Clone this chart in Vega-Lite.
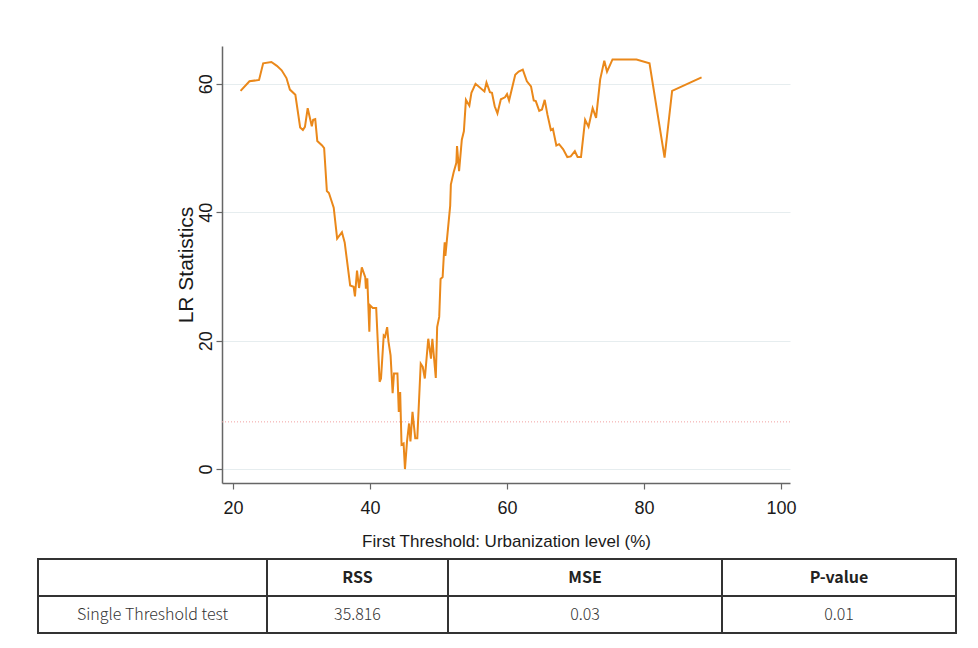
{
  "$schema": "https://vega.github.io/schema/vega-lite/v6.json",
  "padding": {"left": 37, "top": 46, "right": 0, "bottom": 0},
  "background": "white",
  "datasets": {
    "lr": [
      {"x": 21.1, "y": 58.9}, {"x": 22.4, "y": 60.4}, {"x": 23.8, "y": 60.6}, {"x": 24.4, "y": 63.2},
      {"x": 25.6, "y": 63.4}, {"x": 26.4, "y": 62.8}, {"x": 27.1, "y": 62.1}, {"x": 27.8, "y": 60.9},
      {"x": 28.3, "y": 59.1}, {"x": 29.1, "y": 58.3}, {"x": 29.8, "y": 53.2}, {"x": 30.2, "y": 52.8},
      {"x": 30.5, "y": 53.3}, {"x": 30.9, "y": 56.2}, {"x": 31.5, "y": 53.4}, {"x": 31.7, "y": 54.4},
      {"x": 32.0, "y": 54.5}, {"x": 32.3, "y": 51.1}, {"x": 33.0, "y": 50.4}, {"x": 33.3, "y": 50.0},
      {"x": 33.7, "y": 43.3}, {"x": 34.0, "y": 43.0}, {"x": 34.7, "y": 40.7}, {"x": 35.2, "y": 35.9},
      {"x": 35.9, "y": 36.9}, {"x": 36.3, "y": 35.3}, {"x": 37.1, "y": 28.6}, {"x": 37.6, "y": 28.4},
      {"x": 37.8, "y": 26.9}, {"x": 38.1, "y": 30.9}, {"x": 38.4, "y": 28.2}, {"x": 38.8, "y": 31.4},
      {"x": 39.3, "y": 29.9}, {"x": 39.4, "y": 28.1}, {"x": 39.6, "y": 29.7}, {"x": 39.9, "y": 21.4},
      {"x": 40.0, "y": 25.5}, {"x": 40.4, "y": 25.1}, {"x": 40.9, "y": 25.1}, {"x": 41.4, "y": 13.6},
      {"x": 41.6, "y": 14.1}, {"x": 42.0, "y": 20.8}, {"x": 42.2, "y": 20.6}, {"x": 42.5, "y": 22.1},
      {"x": 42.7, "y": 19.8}, {"x": 43.0, "y": 17.7}, {"x": 43.3, "y": 11.8}, {"x": 43.5, "y": 14.9},
      {"x": 44.0, "y": 14.9}, {"x": 44.2, "y": 8.9}, {"x": 44.4, "y": 12.0}, {"x": 44.6, "y": 3.8},
      {"x": 44.9, "y": 4.0}, {"x": 45.1, "y": 0.0}, {"x": 45.4, "y": 4.3}, {"x": 45.7, "y": 7.1},
      {"x": 45.9, "y": 4.3}, {"x": 46.2, "y": 8.9}, {"x": 46.6, "y": 4.8}, {"x": 46.9, "y": 4.8},
      {"x": 47.4, "y": 16.4}, {"x": 47.7, "y": 15.9}, {"x": 48.0, "y": 14.1}, {"x": 48.5, "y": 20.3},
      {"x": 48.9, "y": 17.2}, {"x": 49.1, "y": 20.3}, {"x": 49.6, "y": 14.2}, {"x": 49.8, "y": 22.1},
      {"x": 50.1, "y": 23.7}, {"x": 50.3, "y": 29.6}, {"x": 50.6, "y": 29.9}, {"x": 50.8, "y": 33.8},
      {"x": 50.9, "y": 35.3}, {"x": 51.0, "y": 33.2}, {"x": 51.7, "y": 41.0}, {"x": 51.8, "y": 44.3},
      {"x": 52.2, "y": 46.2}, {"x": 52.6, "y": 47.7}, {"x": 52.7, "y": 50.3}, {"x": 53.0, "y": 46.4},
      {"x": 53.4, "y": 51.3}, {"x": 53.7, "y": 52.6}, {"x": 54.0, "y": 57.5}, {"x": 54.5, "y": 56.6},
      {"x": 54.8, "y": 58.6}, {"x": 55.4, "y": 60.0}, {"x": 56.7, "y": 58.8}, {"x": 57.0, "y": 60.2},
      {"x": 57.5, "y": 58.7}, {"x": 57.8, "y": 58.6}, {"x": 58.2, "y": 56.5}, {"x": 58.6, "y": 55.4},
      {"x": 59.1, "y": 57.6}, {"x": 59.7, "y": 57.9}, {"x": 60.0, "y": 58.4}, {"x": 60.3, "y": 57.4},
      {"x": 61.2, "y": 61.4}, {"x": 61.7, "y": 61.9}, {"x": 62.3, "y": 62.2}, {"x": 62.9, "y": 60.4},
      {"x": 63.5, "y": 59.6}, {"x": 63.9, "y": 57.4}, {"x": 64.2, "y": 57.3}, {"x": 64.7, "y": 55.8},
      {"x": 65.1, "y": 56.0}, {"x": 65.5, "y": 57.5}, {"x": 65.9, "y": 55.2}, {"x": 66.4, "y": 52.8},
      {"x": 66.7, "y": 53.0}, {"x": 67.2, "y": 50.4}, {"x": 67.6, "y": 50.6}, {"x": 68.2, "y": 49.8},
      {"x": 68.8, "y": 48.6}, {"x": 69.3, "y": 48.7}, {"x": 69.9, "y": 49.5}, {"x": 70.3, "y": 48.6},
      {"x": 70.8, "y": 48.6}, {"x": 71.4, "y": 54.4}, {"x": 71.9, "y": 53.3}, {"x": 72.5, "y": 56.2},
      {"x": 73.0, "y": 54.7}, {"x": 73.6, "y": 60.7}, {"x": 74.2, "y": 63.6}, {"x": 74.6, "y": 61.9},
      {"x": 75.4, "y": 63.8}, {"x": 78.9, "y": 63.8}, {"x": 80.8, "y": 63.2}, {"x": 83.0, "y": 48.5},
      {"x": 84.1, "y": 58.9}, {"x": 88.4, "y": 61.0}
    ],
    "table": [
      {"col": "c0", "row": "h", "label": ""},
      {"col": "c0", "row": "b", "label": "Single Threshold test"},
      {"col": "c1", "row": "h", "label": "RSS"},
      {"col": "c1", "row": "b", "label": "35.816"},
      {"col": "c2", "row": "h", "label": "MSE"},
      {"col": "c2", "row": "b", "label": "0.03"},
      {"col": "c3", "row": "h", "label": "P-value"},
      {"col": "c3", "row": "b", "label": "0.01"}
    ]
  },
  "vconcat": [
    {
      "hconcat": [
        {
          "width": 184,
          "height": 437,
          "data": {"values": []},
          "mark": "point"
        },
        {
          "width": 568,
          "height": 437,
          "layer": [
            {
              "data": {"values": [{"critical": 7.35}]},
              "mark": {"type": "rule", "color": "#F2A0A0", "strokeWidth": 1, "strokeDash": [1, 2]},
              "encoding": {
                "y": {
                  "field": "critical", "type": "quantitative",
                  "scale": {"domain": [-2.17, 65.89], "nice": false, "zero": false}
                }
              }
            },
            {
              "data": {"name": "lr"},
              "mark": {"type": "line", "color": "#EA881A", "strokeWidth": 2},
              "encoding": {
                "x": {
                  "field": "x", "type": "quantitative",
                  "scale": {"domain": [18.39, 101.31], "nice": false, "zero": false},
                  "axis": {"values": [20, 40, 60, 80, 100], "grid": false,
                           "title": "First Threshold: Urbanization level (%)",
                           "labelFontSize": 18, "labelPadding": 10,
                           "titleFontSize": 17, "titlePadding": 16}
                },
                "y": {
                  "field": "y", "type": "quantitative",
                  "scale": {"domain": [-2.17, 65.89], "nice": false, "zero": false},
                  "axis": {"values": [0, 20, 40, 60], "grid": true, "gridColor": "#E6EDEF",
                           "labelAngle": -90, "labelAlign": "center", "labelBaseline": "bottom",
                           "labelFontSize": 18, "labelPadding": 1,
                           "title": "LR Statistics", "titleFontSize": 21, "titlePadding": 1}
                }
              }
            }
          ]
        }
      ],
      "spacing": 0,
      "bounds": "flush"
    },
    {
      "hconcat": [
        {
          "width": 229, "height": 74,
          "data": {"name": "table"},
          "transform": [{"filter": "datum.col === 'c0'"}],
          "encoding": {"y": {"field": "row", "type": "nominal", "scale": {"domain": ["h", "b"], "paddingInner": 0, "paddingOuter": 0}, "axis": null}},
          "layer": [
            {"mark": {"type": "rect", "fill": "white", "stroke": "#333333", "strokeWidth": 2}},
            {"transform": [{"filter": "datum.row === 'b'"}], "mark": {"type": "text", "font": "Noto Sans CJK SC", "fontSize": 16, "fontWeight": 300, "color": "#333333"}, "encoding": {"text": {"field": "label"}}}
          ]
        },
        {
          "width": 181, "height": 74,
          "data": {"name": "table"},
          "transform": [{"filter": "datum.col === 'c1'"}],
          "encoding": {"y": {"field": "row", "type": "nominal", "scale": {"domain": ["h", "b"], "paddingInner": 0, "paddingOuter": 0}, "axis": null}},
          "layer": [
            {"mark": {"type": "rect", "fill": "white", "stroke": "#333333", "strokeWidth": 2}},
            {"transform": [{"filter": "datum.row === 'h'"}], "mark": {"type": "text", "font": "Noto Sans CJK SC", "fontSize": 16, "fontWeight": "bold", "color": "#222222"}, "encoding": {"text": {"field": "label"}}},
            {"transform": [{"filter": "datum.row === 'b'"}], "mark": {"type": "text", "font": "Noto Sans CJK SC", "fontSize": 16, "fontWeight": 300, "color": "#333333"}, "encoding": {"text": {"field": "label"}}}
          ]
        },
        {
          "width": 274, "height": 74,
          "data": {"name": "table"},
          "transform": [{"filter": "datum.col === 'c2'"}],
          "encoding": {"y": {"field": "row", "type": "nominal", "scale": {"domain": ["h", "b"], "paddingInner": 0, "paddingOuter": 0}, "axis": null}},
          "layer": [
            {"mark": {"type": "rect", "fill": "white", "stroke": "#333333", "strokeWidth": 2}},
            {"transform": [{"filter": "datum.row === 'h'"}], "mark": {"type": "text", "font": "Noto Sans CJK SC", "fontSize": 16, "fontWeight": "bold", "color": "#222222"}, "encoding": {"text": {"field": "label"}}},
            {"transform": [{"filter": "datum.row === 'b'"}], "mark": {"type": "text", "font": "Noto Sans CJK SC", "fontSize": 16, "fontWeight": 300, "color": "#333333"}, "encoding": {"text": {"field": "label"}}}
          ]
        },
        {
          "width": 234, "height": 74,
          "data": {"name": "table"},
          "transform": [{"filter": "datum.col === 'c3'"}],
          "encoding": {"y": {"field": "row", "type": "nominal", "scale": {"domain": ["h", "b"], "paddingInner": 0, "paddingOuter": 0}, "axis": null}},
          "layer": [
            {"mark": {"type": "rect", "fill": "white", "stroke": "#333333", "strokeWidth": 2}},
            {"transform": [{"filter": "datum.row === 'h'"}], "mark": {"type": "text", "font": "Noto Sans CJK SC", "fontSize": 16, "fontWeight": "bold", "color": "#222222"}, "encoding": {"text": {"field": "label"}}},
            {"transform": [{"filter": "datum.row === 'b'"}], "mark": {"type": "text", "font": "Noto Sans CJK SC", "fontSize": 16, "fontWeight": 300, "color": "#333333"}, "encoding": {"text": {"field": "label"}}}
          ]
        }
      ],
      "spacing": 0,
      "bounds": "flush"
    }
  ],
  "spacing": 9,
  "config": {
    "view": {"stroke": null},
    "font": "Liberation Sans",
    "axis": {
      "domainColor": "#666666", "domainWidth": 1.5, "tickColor": "#666666", "tickWidth": 1.2, "tickSize": 6,
      "labelFont": "Liberation Sans", "titleFont": "Liberation Sans",
      "labelColor": "#1a1a1a", "titleFontWeight": "normal", "titleColor": "#1a1a1a"
    }
  }
}
